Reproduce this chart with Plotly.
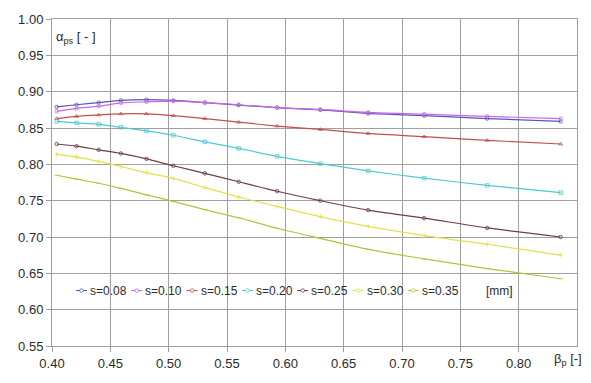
import plotly.graph_objects as go

# ---------------- data ----------------
beta = [0.404, 0.421, 0.440, 0.459, 0.481, 0.504, 0.531, 0.560, 0.593, 0.630, 0.671, 0.719, 0.773, 0.836]

s008 = [0.879, 0.882, 0.885, 0.888, 0.889, 0.888, 0.885, 0.8815, 0.878, 0.875, 0.870, 0.867, 0.863, 0.859]
s010 = [0.873, 0.877, 0.880, 0.8845, 0.886, 0.887, 0.885, 0.882, 0.878, 0.8755, 0.8715, 0.869, 0.866, 0.863]
s015 = [0.863, 0.866, 0.868, 0.8695, 0.8695, 0.867, 0.863, 0.858, 0.8527, 0.848, 0.8425, 0.838, 0.833, 0.828]
s020 = [0.859, 0.857, 0.855, 0.851, 0.846, 0.840, 0.831, 0.822, 0.811, 0.801, 0.791, 0.781, 0.771, 0.761]
s025 = [0.828, 0.825, 0.820, 0.815, 0.8075, 0.798, 0.7876, 0.776, 0.763, 0.750, 0.737, 0.726, 0.7125, 0.700]
s030 = [0.814, 0.810, 0.804, 0.797, 0.7885, 0.7806, 0.768, 0.755, 0.742, 0.728, 0.7146, 0.702, 0.690, 0.675]
s035 = [0.785, 0.7796, 0.774, 0.767, 0.758, 0.749, 0.7376, 0.7265, 0.712, 0.698, 0.683, 0.670, 0.6566, 0.6425]

names = ["s=0.08", "s=0.10", "s=0.15", "s=0.20", "s=0.25", "s=0.30", "s=0.35"]
series = [s008, s010, s015, s020, s025, s030, s035]
colors = ["#5b55b5", "#c867e6", "#c0504d", "#4cc9d3", "#6e3d4c", "#e2e04a", "#a9c93c"]
symbols = ["circle-open", "circle-open", "triangle-up-open", "square-open", "circle-open", "cross-thin-open", "line-ew-open"]

x_ticks = [0.40, 0.45, 0.50, 0.55, 0.60, 0.65, 0.70, 0.75, 0.80]
y_ticks = [0.55, 0.60, 0.65, 0.70, 0.75, 0.80, 0.85, 0.90, 0.95, 1.00]

# ---------------- layout geometry (pixels) ----------------
W, H = 591, 383
L, R, T, B = 52, 14, 14, 30
pw, ph = W - L - R, H - T - B


def px(x):
    return (x - L) / pw


def py(y):
    return (H - B - y) / ph


FONT = "Liberation Sans, Arial, sans-serif"
GRID = "#a0a0a0"
TXT = "#2b2b2b"

fig = go.Figure()
for name, ys, c, sym in zip(names, series, colors, symbols):
    fig.add_trace(go.Scatter(
        x=beta, y=ys, name=name, mode="lines+markers",
        line=dict(color=c, width=1.2, shape="spline", smoothing=0.8),
        marker=dict(symbol=sym, size=3.5, color=c, line=dict(width=0.8, color=c)),
        showlegend=False,
    ))

# compact Excel-like legend
shapes = []
annotations = []
leg_y = 295.5
for i, (name, c) in enumerate(zip(names, colors)):
    tx = 88 + i * 55.3
    shapes.append(dict(type="line", xref="paper", yref="paper",
                       x0=px(tx - 12), x1=px(tx - 1), y0=py(leg_y), y1=py(leg_y),
                       line=dict(color=c, width=1.1)))
    shapes.append(dict(type="circle", xref="paper", yref="paper",
                       x0=px(tx - 8.3), x1=px(tx - 4.7), y0=py(leg_y - 1.8), y1=py(leg_y + 1.8),
                       line=dict(color=c, width=0.8), fillcolor="white"))
    annotations.append(dict(text=name, xref="paper", yref="paper", x=px(tx), y=py(leg_y),
                            xanchor="left", yanchor="middle", showarrow=False,
                            font=dict(size=12, color=TXT, family=FONT)))

annotations.append(dict(text="[mm]", xref="paper", yref="paper", x=px(499), y=py(leg_y),
                        xanchor="center", yanchor="middle", showarrow=False,
                        font=dict(size=12, color=TXT, family=FONT)))
annotations.append(dict(text="α<sub>ps</sub> [ - ]", xref="paper", yref="paper", x=px(54), y=py(33),
                        xanchor="left", yanchor="middle", showarrow=False,
                        font=dict(size=13, color=TXT, family=FONT)))
annotations.append(dict(text="β<sub>p</sub> [-]", xref="paper", yref="paper", x=px(568), y=py(367),
                        xanchor="center", yanchor="middle", showarrow=False,
                        font=dict(size=13, color=TXT, family=FONT)))

fig.update_layout(
    width=W, height=H,
    margin=dict(l=L, r=R, t=T, b=B),
    paper_bgcolor="white", plot_bgcolor="white",
    font=dict(family=FONT, size=13, color=TXT),
    shapes=shapes, annotations=annotations,
    showlegend=False,
)
fig.update_xaxes(range=[0.40, 0.85], tickvals=x_ticks, tickformat=".2f",
                 showgrid=True, gridcolor=GRID, gridwidth=1,
                 showline=True, linecolor=GRID, linewidth=1, mirror=True,
                 ticks="outside", ticklen=5, tickcolor=GRID, zeroline=False)
fig.update_yaxes(range=[0.55, 1.00], tickvals=y_ticks, tickformat=".2f",
                 showgrid=True, gridcolor=GRID, gridwidth=1,
                 showline=True, linecolor=GRID, linewidth=1, mirror=True,
                 ticks="outside", ticklen=5, tickcolor=GRID, zeroline=False)

fig.write_html("out.html")
